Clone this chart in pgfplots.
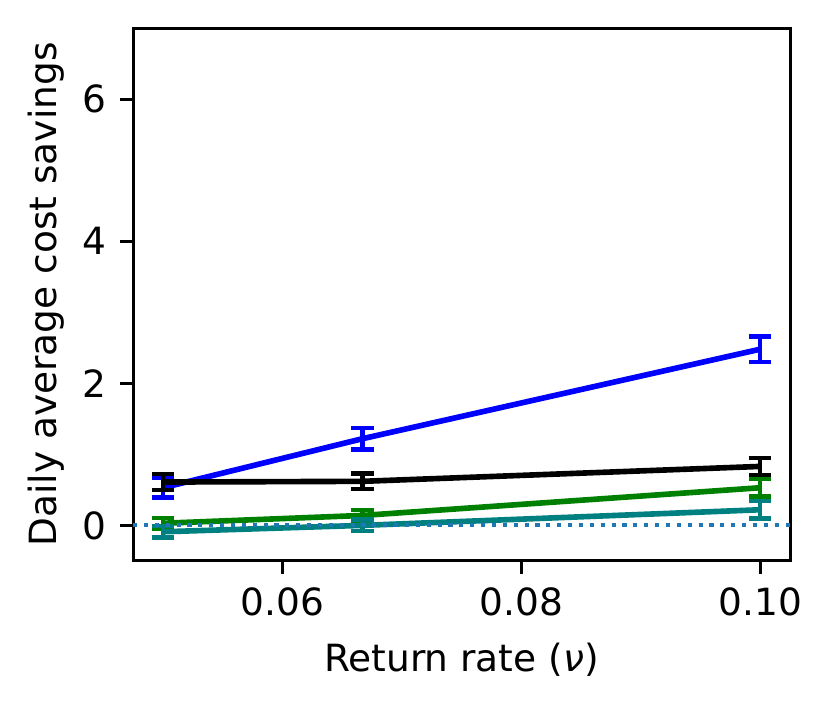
\documentclass[border=0pt]{standalone}
\usepackage{fontspec}
\setmainfont{DejaVu Sans}
\usepackage{pgfplots}
\pgfplotsset{compat=1.18}
\definecolor{tabblue}{HTML}{1F77B4}
\definecolor{mgreen}{rgb}{0,0.5,0}
\definecolor{mteal}{rgb}{0,0.5,0.5}
\begin{document}
\begin{tikzpicture}
\path[use as bounding box] (-35.5pt,-39.5pt) rectangle (186.4pt,149.6pt);
\begin{axis}[
  at={(0,0)}, anchor=south west,
  scale only axis,
  width=175.2pt, height=142.1pt,
  xmin=0.0475, xmax=0.1025,
  ymin=-0.5, ymax=7,
  xtick={0.06,0.08,0.10},
  xticklabels={0.06,0.08,0.10},
  ytick={0,2,4,6},
  yticklabels={0,2,4,6},
  tick align=outside,
  tick pos=left,
  major tick length=3.5pt,
  every tick/.style={line width=0.8pt, black},
  axis line style={line width=0.8pt},
  tick label style={font=\fontsize{10}{12}\selectfont},
  label style={font=\fontsize{10}{12}\selectfont},
  /pgf/number format/assume math mode=true,
  xlabel={Return rate (\textit{ν})},
  ylabel={Daily average cost savings},
  xlabel style={yshift=-0.5pt},
  ylabel style={yshift=-2pt},
  clip=false,
  error bars/y dir=both,
  error bars/y explicit,
  error bars/error mark=|,
  error bars/error bar style={line width=1.2pt},
  error bars/error mark options={line width=1.2pt, mark size=3pt},
]
\addplot[blue, line width=1.5pt, mark=none] coordinates {
  (0.05,0.53) +- (0,0.14)
  (0.0667,1.22) +- (0,0.15)
  (0.10,2.48) +- (0,0.18)
};
\addplot[black, line width=1.5pt, mark=none] coordinates {
  (0.05,0.61) +- (0,0.11)
  (0.0667,0.62) +- (0,0.11)
  (0.10,0.83) +- (0,0.12)
};
\addplot[mgreen, line width=1.5pt, mark=none] coordinates {
  (0.05,0.03) +- (0,0.075)
  (0.0667,0.14) +- (0,0.08)
  (0.10,0.53) +- (0,0.12)
};
\addplot[mteal, line width=1.5pt, mark=none] coordinates {
  (0.05,-0.09) +- (0,0.08)
  (0.0667,0.0) +- (0,0.08)
  (0.10,0.22) +- (0,0.12)
};
\addplot[tabblue, line width=1.1pt, dash pattern=on 1.1pt off 1.8pt, error bars/y dir=none] coordinates {(0.0475,0) (0.1025,0)};
\end{axis}
\end{tikzpicture}
\end{document}
